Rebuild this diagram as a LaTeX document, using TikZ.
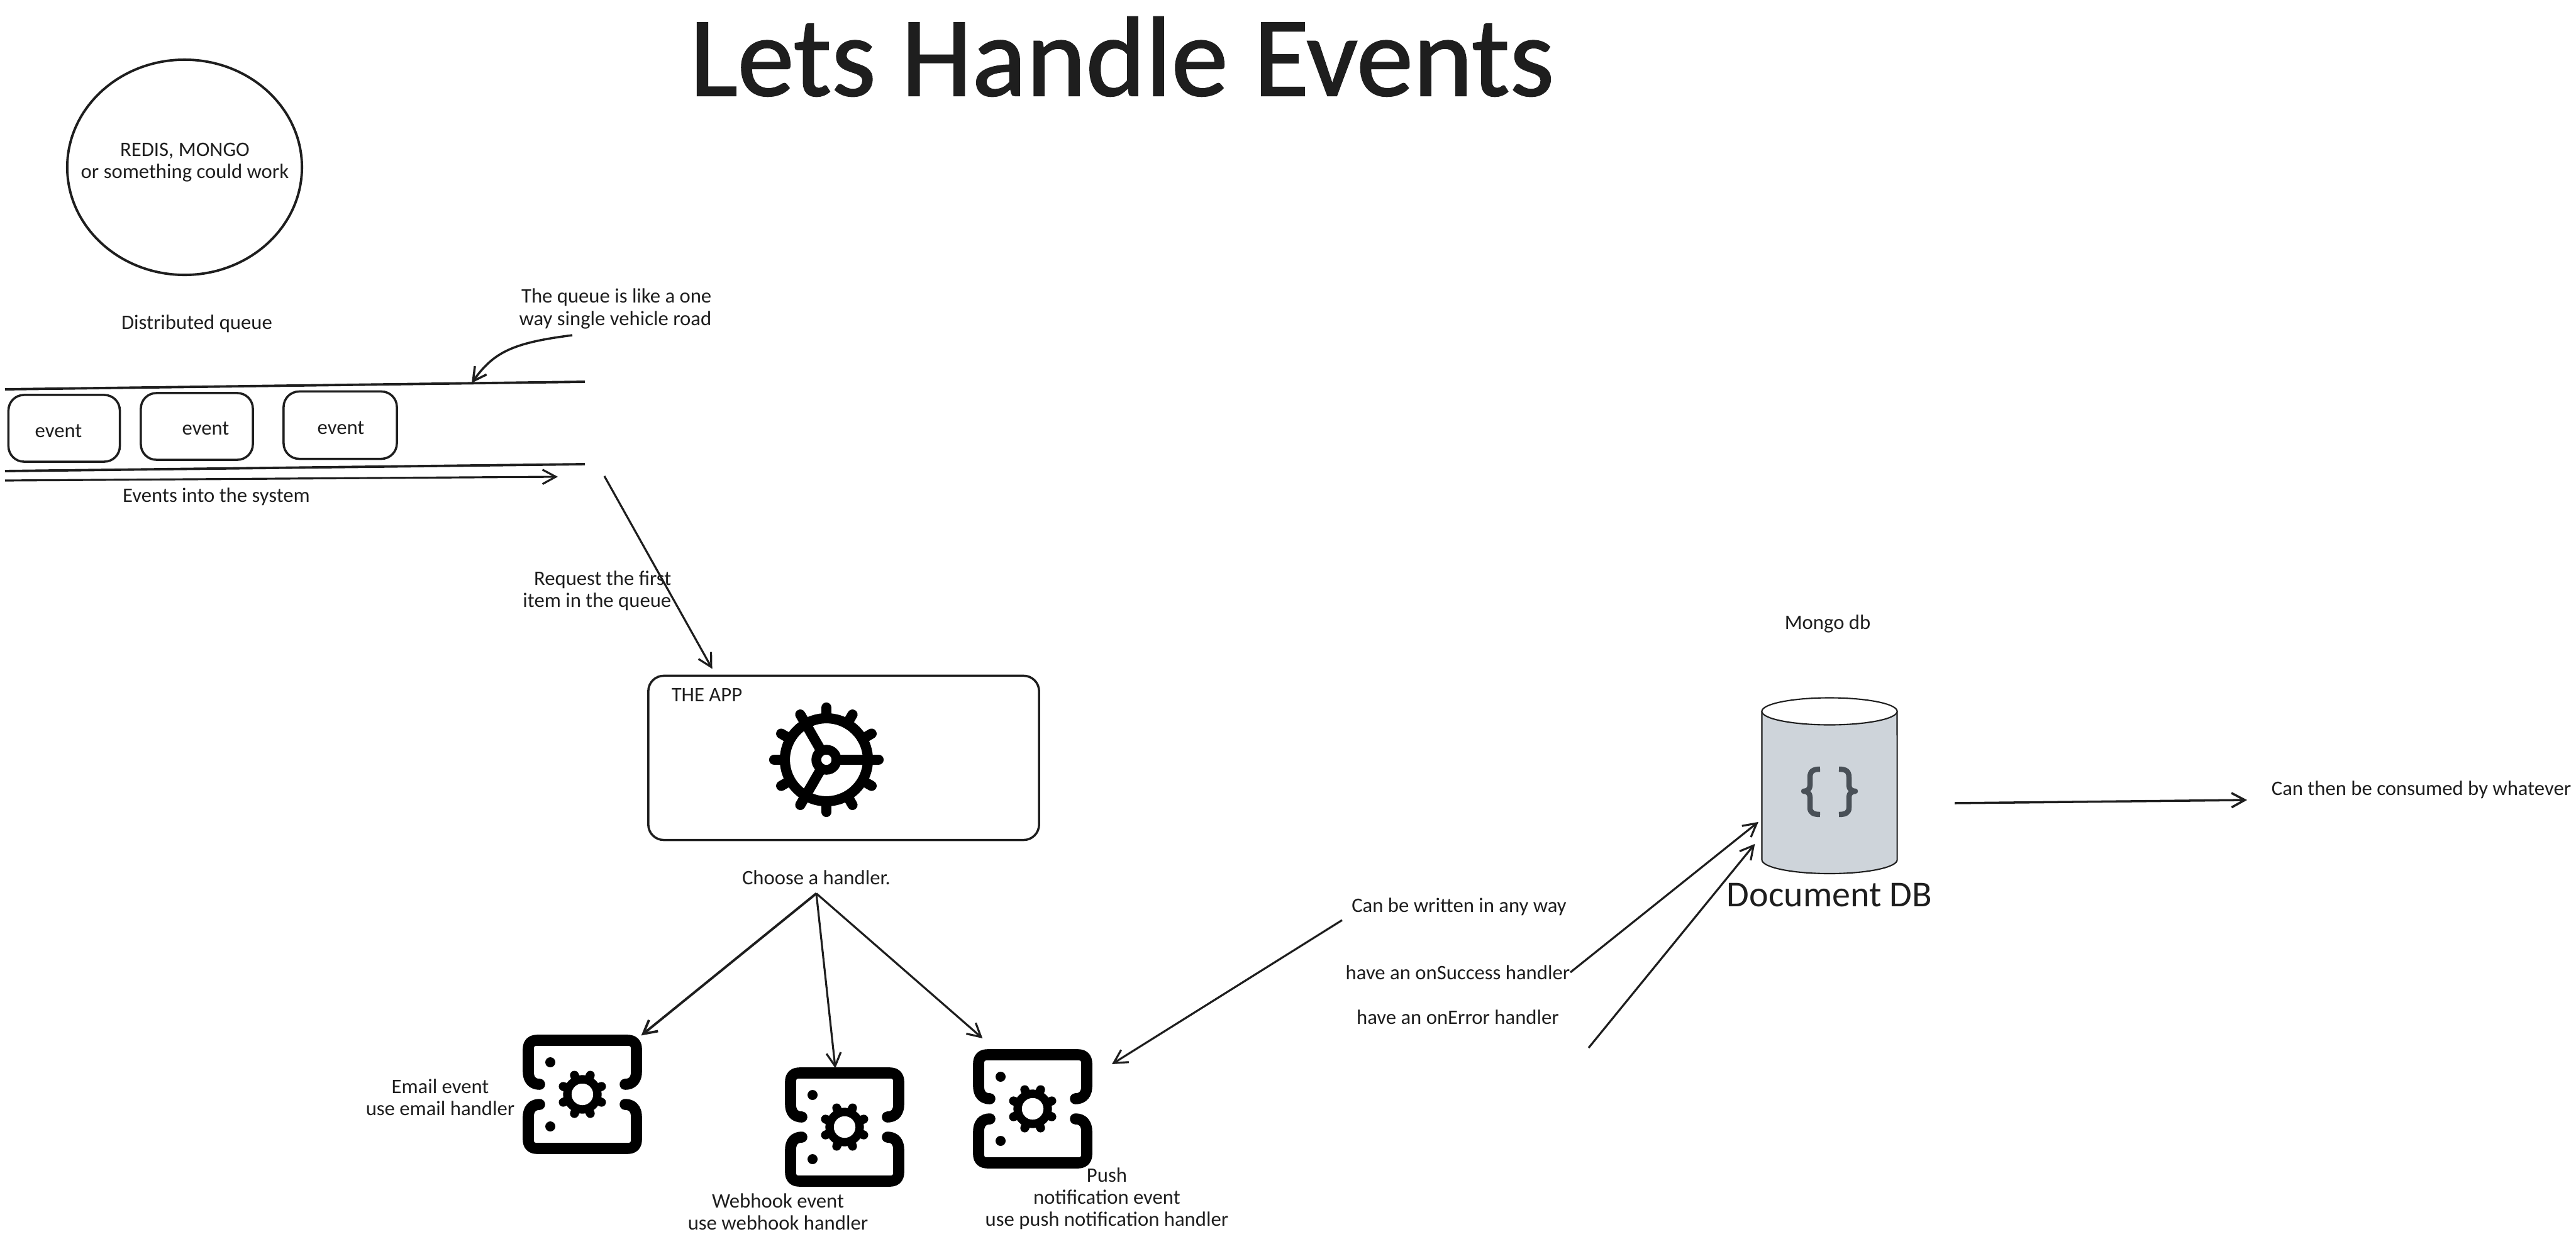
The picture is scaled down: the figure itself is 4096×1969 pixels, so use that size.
\documentclass[tikz,border=0pt]{standalone}
\usepackage{fontspec}
\setmainfont{Carlito}
\newfontfamily\titlefont[FakeBold=1.2]{Carlito}
\usetikzlibrary{arrows.meta,shapes.geometric}
\definecolor{ink}{HTML}{1E1E1E}
\definecolor{dbgray}{HTML}{CED4DA}
\definecolor{dbbrace}{HTML}{495057}
\tikzset{
    lbl/.style={text=ink,font=\fontsize{9.3}{10}\selectfont,inner sep=0pt,align=center},
    roundbox/.style={draw=ink,line width=1pt,rounded corners=7pt,inner sep=0pt},
    iconbox/.style={inner sep=0pt,outer sep=0pt,minimum size=1.87cm},
    road/.style={draw=ink,line width=1.1pt},
    link/.style={draw=ink,line width=.9pt,->},
    % gear of the app box
    app gear/.pic={
        \draw[black,line width=4.6pt] (0,0) circle (66);
        \draw[black,line width=4.4pt] (0,0) circle (16);
        \foreach \a in {0,30,...,330}
            \draw[black,line width=4.6pt,line cap=round] (\a:72) -- (\a:83);
        \foreach \a in {0,120,240}
            \draw[black,line width=4.6pt] (\a:20) -- (\a:70);
    },
    % server bracket with a small gear
    handler icon/.pic={
        \foreach \s in {1,-1} {
            \draw[black,line width=5pt,line cap=round,line join=round]
                (-68,\s*-16) .. controls (-80,\s*-16) and (-86,\s*-24) .. (-86,\s*-36)
                -- (-86,\s*-72) .. controls (-86,\s*-81) and (-81,\s*-86) .. (-72,\s*-86)
                -- (72,\s*-86) .. controls (81,\s*-86) and (86,\s*-81) .. (86,\s*-72)
                -- (86,\s*-36) .. controls (86,\s*-24) and (80,\s*-16) .. (68,\s*-16);
            \fill[black] (-51,\s*-51) circle (8);
        }
        \draw[black,line width=3.8pt] (0,0) circle (24);
        \foreach \a in {22.5,67.5,...,337.5}
            \draw[black,line width=4pt,line cap=round] (\a:28) -- (\a:33);
    }
}
\begin{document}
\begin{tikzpicture}[x=0.01cm,y=-0.01cm,>={Straight Barb[length=6pt,width=6.5pt]}]
    \useasboundingbox (0,0) rectangle (4096,1969);

    % Title
    \node[text=ink,font=\titlefont\fontsize{51.3}{52}\selectfont,inner sep=0pt] (title) at (1784,90) {Lets Handle Events};

    % The store above the queue
    \node[ellipse,draw=ink,line width=1.1pt,minimum width=3.73cm,minimum height=3.42cm,inner sep=0pt] (store) at (293.5,266) {};
    \node[lbl] (storetext) at (294,258) {REDIS, MONGO\\or something could work};

    % The queue drawn as a road
    \node[lbl] (queuetext) at (313,515) {Distributed queue};
    \node[lbl,anchor=east,align=right] (roadnote) at (1132,491) {The queue is like a one\\way single vehicle road};
    \coordinate (roadtopa) at (8,619);
    \coordinate (roadtopb) at (930,607);
    \coordinate (roadlowa) at (8,749);
    \coordinate (roadlowb) at (930,738);
    \coordinate (intoa) at (8,764);
    \coordinate (intob) at (887,758);
    \coordinate (notestart) at (910,533);
    \coordinate (notetip) at (750,609);
    \draw[road] (roadtopa) -- (roadtopb);
    \draw[road] (roadlowa) -- (roadlowb);
    \draw[link] (intoa) -- (intob);
    \draw[link,line width=1pt] (notestart) .. controls (815,545) and (785,560) .. (notetip);
    \node[lbl] (intotext) at (344,790) {Events into the system};

    % The events waiting in the queue
    \node[roundbox,minimum width=1.77cm,minimum height=1.06cm] (eventa) at (102,681) {};
    \node[roundbox,minimum width=1.78cm,minimum height=1.06cm] (eventb) at (313,678) {};
    \node[roundbox,minimum width=1.80cm,minimum height=1.07cm] (eventc) at (541,676) {};
    \node[lbl] (eventatext) at (93,685) {event};
    \node[lbl] (eventbtext) at (327,681) {event};
    \node[lbl] (eventctext) at (542,680) {event};

    % The app
    \node[lbl,anchor=east,align=right] (request) at (1068,939) {Request the first\\item in the queue};
    \node[roundbox,minimum width=6.21cm,minimum height=2.61cm] (appbox) at (1341.5,1205) {};
    \node[lbl] (apptext) at (1124,1105) {THE APP};
    \pic at (1314,1208) {app gear};
    \coordinate (reqstart) at (961,757);
    \draw[link,shorten >=3pt] (reqstart) -- (appbox.147);

    % The handlers
    \node[lbl,outer sep=4pt] (choose) at (1298,1395) {Choose a handler.};
    \node[iconbox] (emailicon) at (926,1740) {};
    \node[iconbox] (webhookicon) at (1343,1792) {};
    \node[iconbox] (pushicon) at (1642,1763) {};
    \pic at (emailicon.center) {handler icon};
    \pic at (webhookicon.center) {handler icon};
    \pic at (pushicon.center) {handler icon};
    \draw[link,line width=1.1pt] (choose.south) -- (emailicon.north east);
    \draw[link] (choose.south) -- (webhookicon.99);
    \draw[link,shorten >=8pt] (choose.south) -- (pushicon.122);
    \node[lbl] (emailtext) at (700,1745) {Email event\\use email handler};
    \node[lbl] (webhooktext) at (1237,1927) {Webhook event\\use webhook handler};
    \node[lbl] (pushtext) at (1760,1906) {Push\\notification event\\use push notification handler};

    % The document store
    \node[lbl] (mongotext) at (2906,992) {Mongo db};
    \node[inner sep=0pt,outer sep=0pt,minimum width=2.15cm,minimum height=2.79cm] (dbicon) at (2909,1250) {};
    \draw[draw=ink,line width=.6pt,fill=dbgray] (2801.5,1131) -- (2801.5,1367) arc[start angle=180,end angle=360,x radius=1.075cm,y radius=.22cm] -- (3016.5,1131) -- cycle;
    \draw[draw=ink,line width=.6pt,fill=white] (2909,1131) ellipse [x radius=1.075cm,y radius=.215cm];
    \draw[dbbrace,line width=2.4pt,line join=round] (2894,1223) .. controls (2883,1223) and (2878,1226) .. (2878,1236) -- (2878,1249) .. controls (2878,1255) and (2873,1258) .. (2868,1258) .. controls (2873,1258) and (2878,1261) .. (2878,1267) -- (2878,1284) .. controls (2878,1292) and (2883,1295) .. (2894,1295);
    \draw[dbbrace,line width=2.4pt,line join=round] (2924,1223) .. controls (2935,1223) and (2940,1226) .. (2940,1236) -- (2940,1249) .. controls (2940,1255) and (2945,1258) .. (2950,1258) .. controls (2945,1258) and (2940,1261) .. (2940,1267) -- (2940,1284) .. controls (2940,1292) and (2935,1295) .. (2924,1295);
    \node[lbl,font=\fontsize{16.5}{18}\selectfont] (dbtext) at (2909,1423) {Document DB};

    % What the handlers write
    \node[lbl] (anyway) at (2320,1442) {Can be written in any way};
    \node[lbl] (onsuccess) at (2318,1546) {have an onSuccess handler};
    \node[lbl] (onerror) at (2318,1617) {have an onError handler};
    \coordinate (anywaystart) at (2134,1463);
    \coordinate (pushtip) at (1768,1692);
    \coordinate (errorstart) at (2526,1666);
    \draw[link] (anywaystart) -- (pushtip);
    \draw[link,shorten >=2pt] (onsuccess.east) -- (dbicon.206);
    \draw[link,shorten >=5pt] (errorstart) -- (dbicon.216);

    % Out of the store
    \node[lbl] (consumed) at (3850,1256) {Can then be consumed by whatever};
    \coordinate (dbout) at (3108,1277);
    \coordinate (consumetip) at (3573,1272);
    \draw[link,line width=1pt] (dbout) -- (consumetip);
\end{tikzpicture}
\end{document}
